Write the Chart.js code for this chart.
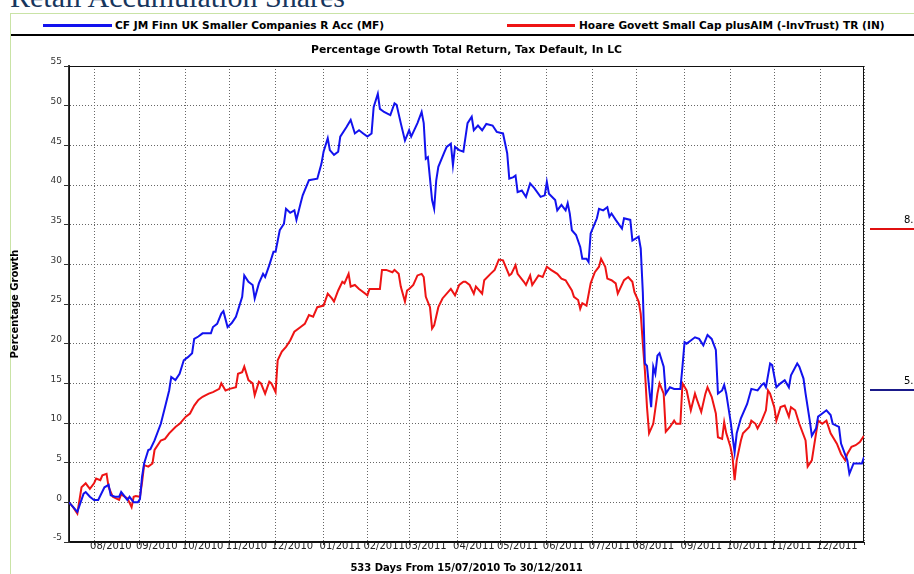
<!DOCTYPE html>
<html>
<head>
<meta charset="utf-8">
<title>Percentage Growth Total Return</title>
<script src="https://cdn.jsdelivr.net/npm/chart.js@4.4.1/dist/chart.umd.min.js"></script>
<style>
  html, body { margin: 0; padding: 0; background: #fff; }
  #page { position: relative; width: 914px; height: 574px; overflow: hidden; }
  #heading { position: absolute; left: 10px; top: -18px; font: 30px 'Liberation Serif', 'Times New Roman', serif; line-height: 30px; color: #17365d; white-space: nowrap; }
  #box-top { position: absolute; left: 10px; top: 13px; width: 904px; height: 1px; background: #c9e3a6; }
  #box-left { position: absolute; left: 10px; top: 13px; width: 1px; height: 561px; background: #c9e3a6; }
  #legend-rule { position: absolute; left: 11px; top: 34px; width: 903px; height: 2px; background: #000; }
  .leg-line { position: absolute; top: 24px; height: 3px; }
  .leg-text { position: absolute; top: 19px; font: bold 10.6px 'DejaVu Sans', Verdana, sans-serif; line-height: 12px; color: #000; white-space: nowrap; }
  .end-line { position: absolute; left: 870px; width: 44px; height: 2px; }
  .end-text { position: absolute; left: 904px; font: 10px 'DejaVu Sans', Verdana, sans-serif; line-height: 12px; color: #000; }
  canvas { position: absolute; left: 0; top: 0; }
</style>
</head>
<body>
<div id="page">
  <div id="heading">Retail Accumulation Shares</div>
  <div id="box-top"></div>
  <div id="box-left"></div>
  <div id="legend"></div>
  <div id="legend-rule"></div>
  <canvas id="chart" width="914" height="574"></canvas>
  <div class="end-line" style="top:228px;background:#e01010"></div>
  <div class="end-text" style="top:214px">8.</div>
  <div class="end-line" style="top:389px;background:#1a1a8a"></div>
  <div class="end-text" style="top:375px">5.</div>
</div>
<script>
  // Séries e rótulos
  const seriesNames = ['CF JM Finn UK Smaller Companies R Acc (MF)', 'Hoare Govett Small Cap plusAIM (-InvTrust) TR (IN)'];
  const chartTitle = 'Percentage Growth Total Return, Tax Default, In LC';
  const xTitle = '533 Days From 15/07/2010 To 30/12/2011';
  const yTitle = 'Percentage Growth';

  // x = trading day index from 15/07/2010 (0) to 30/12/2011 (381)
  const lastDay = 381;
  const monthStarts = [12, 34, 56, 77, 99, 122, 143, 163, 186, 207, 229, 251, 272, 295, 317, 338, 360];
  const monthLabels = ['08/2010', '09/2010', '10/2010', '11/2010', '12/2010', '01/2011', '02/2011', '03/2011', '04/2011',
    '05/2011', '06/2011', '07/2011', '08/2011', '09/2011', '10/2011', '11/2011', '12/2011'];

  const finnDays = [0, 2, 4, 7, 8, 10, 12, 14, 17, 19, 20, 22, 24, 25, 28, 29, 31, 33, 34, 35, 36, 38, 39, 41, 44, 46, 48, 49, 51, 53,
    55, 57, 59, 60, 62, 64, 67, 68, 69, 71, 73, 74, 76, 78, 80, 83, 84, 86, 88, 89, 91, 93, 94, 96, 98, 99, 101, 102, 103, 104,
    106, 108, 109, 111, 112, 115, 119, 121, 122, 124, 125, 127, 129, 130, 133, 135, 137, 139, 141, 143, 145, 146, 148, 149, 151,
    154, 156, 157, 159, 161, 163, 164, 167, 169, 170, 171, 172, 174, 175, 176, 177, 180, 181, 183, 184, 185, 187, 189, 191, 193,
    194, 196, 198, 200, 203, 205, 208, 210, 211, 213, 214, 215, 217, 219, 221, 223, 226, 228, 229, 230, 233, 234, 236, 238, 239,
    240, 241, 243, 245, 246, 248, 249, 250, 253, 254, 256, 258, 259, 260, 262, 265, 266, 269, 270, 273, 274, 275, 276, 277, 278,
    279, 280, 281, 282, 283, 285, 286, 288, 290, 293, 294, 295, 296, 298, 300, 302, 304, 306, 308, 310, 311, 313, 314, 315, 317,
    319, 320, 322, 325, 327, 330, 332, 333, 334, 336, 337, 339, 341, 343, 345, 346, 349, 350, 352, 353, 355, 356, 358, 359, 361,
    363, 365, 366, 369, 370, 373, 374, 376, 378, 380, 381];
  const finnGrowth = [0, -0.6, -1.2, 1.1, 1.3, 0.7, 0.3, 0.3, 1.9, 2.2, 0.9, 0.7, 0.7, 1.3, 0.3, 0.7, 0, 0, 0.4, 3.2, 4.9, 6.6, 6.7, 7.8, 9.9, 12.0, 14.1, 15.8, 15.4, 16.2,
    17.9, 18.3, 18.8, 20.6, 20.9, 21.3, 21.3, 21.3, 22.1, 22.5, 23.8, 24.1, 22.1, 22.6, 23.4, 25.9, 28.6, 27.8, 27.4, 25.7, 27.6, 28.8, 28.4, 29.9, 31.6, 31.6, 34.3, 34.7, 35.1, 37.0,
    36.5, 36.8, 35.6, 37.7, 38.7, 40.6, 40.8, 42.7, 44.2, 45.9, 44.4, 43.8, 44.2, 46.1, 47.3, 48.2, 46.5, 46.9, 46.5, 46.1, 46.5, 49.8, 51.5, 49.6, 49.2,
    48.8, 50.3, 50.1, 47.8, 45.6, 46.9, 46.1, 47.8, 49.2, 47.8, 43.3, 43.5, 38.1, 37.0, 40.6, 42.3, 44.2, 44.8, 45.2, 42.5, 44.8, 44.4, 44.2, 47.8, 48.6,
    46.9, 47.5, 46.9, 47.7, 47.5, 46.7, 46.5, 44.0, 40.8, 41.0, 41.2, 39.1, 39.3, 38.5, 40.2, 39.6, 38.5, 38.7, 40.4, 38.9, 38.1, 36.8, 37.5, 36.8, 37.7,
    36.4, 34.3, 33.7, 32.2, 30.7, 30.7, 30.3, 33.9, 35.8, 37.0, 36.8, 37.2, 36.0, 36.4, 35.6, 34.5, 35.8, 35.6, 33.0, 33.5, 32.0, 26.5, 17.5, 17.2, 14.5,
    12.0, 17.1, 16.2, 18.5, 18.8, 17.1, 13.7, 14.5, 14.3, 14.3, 17.1, 20.2, 20.0, 20.4, 20.8, 20.6, 19.8, 21.1, 20.6, 19.2, 13.7, 14.1, 14.8, 13.7, 10.3,
    6.3, 8.7, 10.6, 12.4, 14.3, 14.1, 14.8, 15.0, 14.5, 17.5, 17.3, 14.5, 15.0, 15.4, 14.5, 16.0, 17.5, 17.1, 15.6, 13.7, 10.3, 8.4, 9.3, 10.8, 11.2,
    11.6, 11.0, 9.9, 9.5, 7.4, 5.3, 3.6, 4.9, 4.9, 4.9, 5.7];

  const hoareDays = [0, 2, 4, 6, 8, 10, 12, 13, 15, 16, 18, 19, 21, 24, 25, 28, 30, 31, 32, 34, 35, 36, 38, 40, 41, 44, 46, 48, 51, 53,
    56, 58, 60, 62, 64, 67, 69, 72, 73, 75, 77, 80, 81, 83, 84, 86, 88, 89, 91, 92, 94, 96, 97, 99, 100, 102, 104, 106, 108, 111,
    113, 115, 117, 119, 122, 124, 126, 127, 129, 131, 132, 134, 135, 137, 139, 140, 143, 144, 149, 150, 152, 155, 156, 158, 159,
    161, 162, 163, 165, 167, 169, 170, 171, 173, 174, 175, 177, 179, 183, 185, 187, 189, 190, 192, 194, 195, 198, 199, 202, 204,
    206, 208, 211, 212, 214, 215, 218, 219, 221, 222, 225, 227, 229, 231, 234, 236, 238, 241, 242, 244, 245, 246, 248, 250, 252,
    254, 255, 257, 258, 260, 262, 263, 266, 268, 270, 271, 273, 274, 275, 276, 277, 278, 280, 282, 283, 285, 286, 288, 290, 291,
    293, 294, 296, 298, 300, 301, 303, 305, 306, 308, 310, 311, 313, 314, 315, 317, 318, 319, 320, 322, 323, 326, 327, 329, 330,
    332, 334, 335, 336, 338, 339, 341, 343, 345, 346, 348, 350, 353, 354, 356, 357, 359, 361, 363, 365, 368, 370, 372, 373, 375,
    377, 379, 381];
  const hoareGrowth = [0, -0.6, -1.4, 1.9, 2.4, 1.7, 2.4, 3.0, 2.8, 3.4, 3.6, 1.9, 0.7, 0.3, 1.0, 0.5, -0.6, 0.7, 0.8, 0.7, 2.5, 4.7, 4.5, 4.9, 6.6, 7.8, 8.0, 8.7, 9.5, 9.9,
    10.8, 11.2, 12.2, 12.9, 13.3, 13.7, 13.9, 14.3, 15.0, 14.1, 14.3, 14.5, 16.2, 16.4, 17.1, 15.4, 15.0, 13.5, 15.2, 15.0, 13.7, 15.2, 15.0, 13.9, 17.9, 19.0, 19.6, 20.4, 21.5, 22.1,
    22.5, 23.6, 23.4, 24.6, 24.8, 26.3, 25.7, 25.3, 26.7, 27.8, 27.6, 28.8, 27.2, 27.4, 26.9, 26.7, 26.1, 26.9, 26.9, 29.3, 29.3, 29.0, 29.3, 28.8, 27.2,
    25.3, 26.7, 26.9, 27.4, 28.6, 28.8, 28.4, 25.9, 24.6, 21.9, 22.3, 24.6, 25.7, 26.9, 26.1, 27.4, 27.8, 27.8, 27.4, 26.3, 27.2, 26.3, 28.0, 28.8, 29.3,
    30.6, 30.5, 28.6, 28.8, 29.9, 28.8, 27.8, 27.4, 28.6, 27.4, 28.6, 28.4, 29.7, 29.3, 28.8, 28.2, 28.0, 26.7, 25.9, 25.5, 24.4, 25.1, 24.8, 27.6, 29.0,
    29.7, 30.7, 29.7, 28.2, 28.0, 27.6, 26.3, 28.0, 28.4, 27.8, 26.5, 25.3, 23.8, 20.0, 16.6, 12.0, 8.7, 9.9, 13.7, 15.0, 13.7, 8.9, 9.5, 10.3, 9.9,
    9.9, 15.0, 14.1, 11.6, 13.7, 12.9, 11.4, 13.7, 14.5, 13.3, 11.2, 8.2, 8.0, 10.1, 8.7, 7.0, 5.7, 2.8, 5.3, 7.8, 8.7, 9.5, 10.3, 9.9, 9.3,
    10.3, 11.6, 14.1, 13.7, 12.0, 10.3, 12.0, 12.2, 10.8, 12.0, 11.6, 9.9, 7.8, 4.5, 5.3, 7.0, 10.3, 9.9, 10.3, 8.7, 7.4, 6.1, 5.3, 6.1, 7.0,
    7.2, 7.6, 8.4];

  const coresSeries = ['#1212ee', '#ee1414'];

  // Legenda no topo
  const legenda = document.getElementById('legend');
  const legendaPos = [{ line: 43, lineW: 69, text: 115 }, { line: 507, lineW: 68, text: 579 }];
  seriesNames.forEach((nome, i) => {
    const linha = document.createElement('div');
    linha.className = 'leg-line';
    linha.style.left = legendaPos[i].line + 'px';
    linha.style.width = legendaPos[i].lineW + 'px';
    linha.style.background = coresSeries[i];
    const texto = document.createElement('div');
    texto.className = 'leg-text';
    texto.style.left = legendaPos[i].text + 'px';
    texto.textContent = nome;
    legenda.appendChild(linha);
    legenda.appendChild(texto);
  });

  const toPoints = (days, vals) => days.map((d, i) => ({ x: d, y: vals[i] }));

  // moldura da área do gráfico
  const framePlugin = {
    id: 'frame',
    beforeDatasetsDraw(chart) {
      const { ctx, chartArea: a } = chart;
      ctx.save();
      ctx.strokeStyle = '#111';
      ctx.lineWidth = 1;
      ctx.strokeRect(a.left + 0.5, a.top + 0.5, a.right - a.left - 1, a.bottom - a.top - 1);
      ctx.restore();
    }
  };

  // título centrado sobre a área do gráfico
  const titlePlugin = {
    id: 'plotTitle',
    afterDraw(chart) {
      const { ctx, chartArea: a } = chart;
      ctx.save();
      ctx.font = "bold 10.8px 'DejaVu Sans', Verdana, sans-serif";
      ctx.fillStyle = '#000';
      ctx.textAlign = 'center';
      ctx.textBaseline = 'middle';
      ctx.fillText(chartTitle, (a.left + a.right) / 2, a.top - 16);
      ctx.restore();
    }
  };

  Chart.defaults.font.family = "'DejaVu Sans', Verdana, sans-serif";

  new Chart(document.getElementById('chart'), {
    type: 'line',
    data: {
      datasets: [
        { label: seriesNames[0], data: toPoints(finnDays, finnGrowth), borderColor: coresSeries[0], borderWidth: 2, pointRadius: 0, tension: 0, fill: false },
        { label: seriesNames[1], data: toPoints(hoareDays, hoareGrowth), borderColor: coresSeries[1], borderWidth: 2, pointRadius: 0, tension: 0, fill: false }
      ]
    },
    options: {
      responsive: false,
      animation: false,
      devicePixelRatio: 1,
      layout: { padding: { top: 66, right: 50, left: 0, bottom: 0 } },
      plugins: {
        legend: { display: false },
        tooltip: { enabled: false }
      },
      scales: {
        x: {
          type: 'linear',
          min: 0,
          max: lastDay,
          afterBuildTicks: (scale) => {
            scale.ticks = monthStarts.map(v => ({ value: v })).concat([{ value: lastDay }]);
          },
          afterFit: (scale) => { scale.height = 32; },
          ticks: {
            autoSkip: false,
            maxRotation: 0,
            align: 'start',
            labelOffset: -4,
            padding: -5,
            color: '#222',
            font: { size: 10 },
            callback: (value, index) => monthLabels[index] || ''
          },
          grid: { color: '#666', tickColor: '#333', tickLength: 3 },
          border: { color: '#111', width: 1, dash: [1, 2] },
          title: {
            display: true,
            text: xTitle,
            color: '#000',
            font: { size: 10, weight: 'bold' },
            padding: { top: 0, bottom: 0 }
          }
        },
        y: {
          min: -5,
          max: 55,
          afterFit: (scale) => { scale.width = 69; },
          ticks: { stepSize: 5, color: '#333', font: { size: 9 }, padding: 2, labelOffset: -4 },
          grid: { color: '#666', tickColor: '#333', tickLength: 5 },
          border: { color: '#333', width: 2, dash: [1, 2] },
          title: {
            display: true,
            text: yTitle,
            color: '#000',
            font: { size: 10, weight: 'bold' },
            padding: { top: 9, bottom: 0 }
          }
        }
      }
    },
    plugins: [framePlugin, titlePlugin]
  });
</script>
</body>
</html>
